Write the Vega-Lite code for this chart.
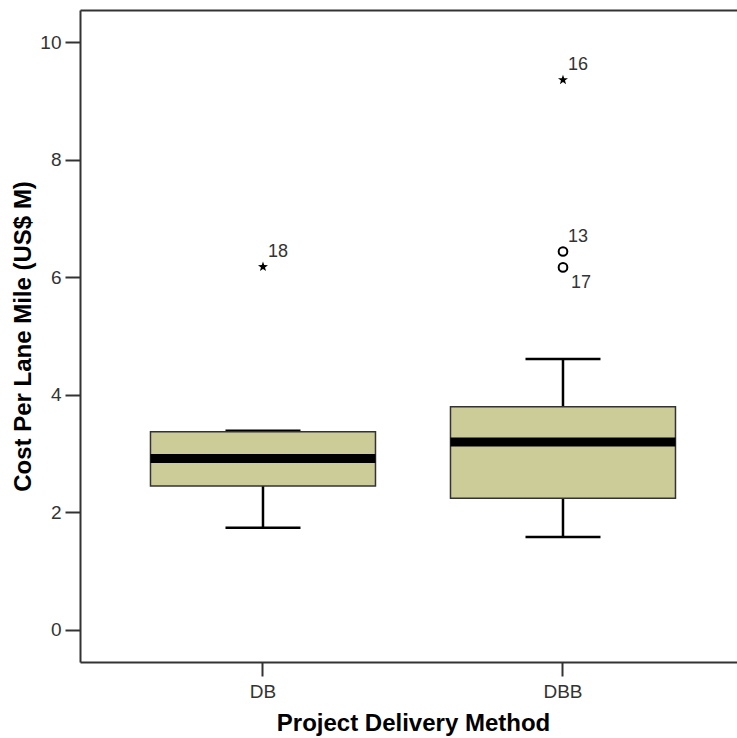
{
  "$schema": "https://vega.github.io/schema/vega-lite/v6.json",
  "width": 657,
  "height": 652,
  "autosize": {"type": "none"},
  "padding": {"left": 80, "top": 10, "right": 0, "bottom": 76},
  "background": "white",
  "config": {
    "view": {"stroke": null},
    "font": "Liberation Sans"
  },
  "datasets": {
    "boxes": [
      {"method": "DB", "lower": 1.74, "q1": 2.45, "median": 2.92, "q3": 3.375, "upper": 3.39},
      {"method": "DBB", "lower": 1.58, "q1": 2.24, "median": 3.2, "q3": 3.8, "upper": 4.61}
    ],
    "outliers": [
      {"method": "DB", "value": 6.18, "id": "18", "kind": "extreme"},
      {"method": "DBB", "value": 9.36, "id": "16", "kind": "extreme"},
      {"method": "DBB", "value": 6.44, "id": "13", "kind": "outlier"},
      {"method": "DBB", "value": 6.17, "id": "17", "kind": "outlier"}
    ]
  },
  "layer": [
    {
      "data": {"name": "boxes"},
      "mark": {"type": "rule", "color": "#000", "strokeWidth": 2.5},
      "encoding": {
        "x": {
          "field": "method", "type": "nominal",
          "scale": {"type": "band", "paddingInner": 0.25, "paddingOuter": 0.22, "align": 0.534},
          "axis": {
            "orient": "bottom", "title": "Project Delivery Method", "labelAngle": 0,
            "tickSize": 14, "tickWidth": 2, "tickColor": "#333",
            "labelPadding": 6, "labelFontSize": 19, "labelColor": "#333", "labelFont": "Liberation Sans",
            "titleFontSize": 24, "titleFontWeight": "bold", "titleColor": "#000", "titleFont": "Liberation Sans",
            "titleX": 333, "titleY": 68, "titleBaseline": "alphabetic", "titleAnchor": null, "titleAlign": "center",
            "domainColor": "#333", "domainWidth": 2
          }
        },
        "y": {
          "field": "lower", "type": "quantitative",
          "scale": {"domain": [-0.545, 10.55], "nice": false, "zero": false},
          "axis": {
            "title": "Cost Per Lane Mile (US$ M)", "values": [0, 2, 4, 6, 8, 10], "format": "d", "grid": false,
            "tickSize": 15, "tickWidth": 2, "tickColor": "#333",
            "labelPadding": 4, "labelFontSize": 19, "labelColor": "#333",
            "titleFontSize": 24, "titleFontWeight": "bold", "titleColor": "#000", "titlePadding": 4,
            "domainColor": "#333", "domainWidth": 2
          }
        },
        "y2": {"field": "q1"}
      }
    },
    {
      "data": {"name": "boxes"},
      "mark": {"type": "rule", "color": "#000", "strokeWidth": 2.5},
      "encoding": {
        "x": {"field": "method", "type": "nominal", "axis": null},
        "y": {"field": "q3", "type": "quantitative"},
        "y2": {"field": "upper"}
      }
    },
    {
      "data": {"name": "boxes"},
      "mark": {"type": "tick", "color": "#000", "size": 75, "thickness": 2.5, "opacity": 1},
      "encoding": {
        "x": {"field": "method", "type": "nominal", "axis": null},
        "y": {"field": "lower", "type": "quantitative"}
      }
    },
    {
      "data": {"name": "boxes"},
      "mark": {"type": "tick", "color": "#000", "size": 75, "thickness": 2.5, "opacity": 1},
      "encoding": {
        "x": {"field": "method", "type": "nominal", "axis": null},
        "y": {"field": "upper", "type": "quantitative"}
      }
    },
    {
      "data": {"name": "boxes"},
      "mark": {"type": "bar", "fill": "#cccc99", "stroke": "#333", "strokeWidth": 1.5},
      "encoding": {
        "x": {"field": "method", "type": "nominal", "axis": null},
        "y": {"field": "q1", "type": "quantitative"},
        "y2": {"field": "q3"}
      }
    },
    {
      "data": {"name": "boxes"},
      "mark": {"type": "tick", "color": "#000", "size": 225, "thickness": 9, "opacity": 1},
      "encoding": {
        "x": {"field": "method", "type": "nominal", "axis": {"orient": "top", "labels": false, "ticks": false, "title": null, "domainColor": "#333", "domainWidth": 2}},
        "y": {"field": "median", "type": "quantitative"}
      }
    },
    {
      "data": {"name": "outliers"},
      "transform": [{"filter": "datum.kind == 'extreme'"}],
      "mark": {"type": "point", "filled": true, "color": "#000", "opacity": 1, "size": 110,
        "shape": "M0,-1L0.235,-0.324L0.951,-0.309L0.38,0.124L0.588,0.809L0,0.4L-0.588,0.809L-0.38,0.124L-0.951,-0.309L-0.235,-0.324Z"},
      "encoding": {
        "x": {"field": "method", "type": "nominal", "axis": null},
        "y": {"field": "value", "type": "quantitative"}
      }
    },
    {
      "data": {"name": "outliers"},
      "transform": [{"filter": "datum.kind == 'outlier'"}],
      "mark": {"type": "point", "filled": false, "color": "#000", "strokeWidth": 2, "opacity": 1, "size": 75, "shape": "circle"},
      "encoding": {
        "x": {"field": "method", "type": "nominal", "axis": null},
        "y": {"field": "value", "type": "quantitative"}
      }
    },
    {
      "data": {"name": "outliers"},
      "transform": [{"filter": "datum.id != '17'"}],
      "mark": {"type": "text", "align": "left", "baseline": "middle", "dx": 5, "dy": -15, "fontSize": 18, "color": "#333"},
      "encoding": {
        "x": {"field": "method", "type": "nominal", "axis": null},
        "y": {"field": "value", "type": "quantitative"},
        "text": {"field": "id"}
      }
    },
    {
      "data": {"name": "outliers"},
      "transform": [{"filter": "datum.id == '17'"}],
      "mark": {"type": "text", "align": "left", "baseline": "middle", "dx": 8, "dy": 16, "fontSize": 18, "color": "#333"},
      "encoding": {
        "x": {"field": "method", "type": "nominal", "axis": null},
        "y": {"field": "value", "type": "quantitative"},
        "text": {"field": "id"}
      }
    }
  ],
  "resolve": {"axis": {"x": "independent"}}
}
